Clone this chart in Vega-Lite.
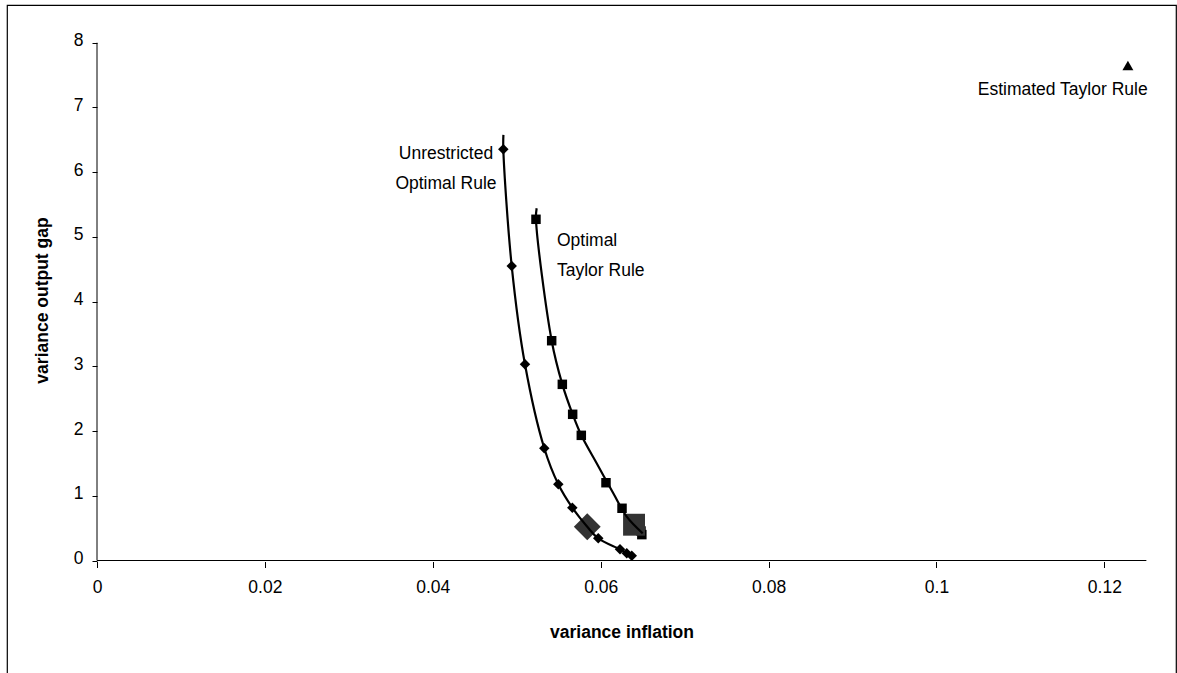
{
  "$schema": "https://vega.github.io/schema/vega-lite/v6.json",
  "width": 1169,
  "height": 669,
  "autosize": {"type": "none"},
  "padding": {"left": 7, "top": 5, "right": 1, "bottom": -1},
  "background": "white",
  "config": {
    "view": {"stroke": "#000", "strokeWidth": 1.2},
    "font": "Liberation Sans",
    "axis": {"grid": false, "domain": false, "tickColor": "#000", "labelColor": "#000", "titleColor": "#000", "labelFont": "Liberation Sans", "titleFont": "Liberation Sans", "labelFontSize": 17.5, "titleFontSize": 17.5, "titleFontWeight": "bold", "labelFlush": false, "labelOverlap": false}
  },
  "datasets": {
    "unrestricted_curve": [
      {"x": 0.04841, "y": 6.576}, {"x": 0.0484, "y": 6.354}, {"x": 0.0494, "y": 4.55}, {"x": 0.05098, "y": 3.032},
      {"x": 0.05328, "y": 1.734}, {"x": 0.05495, "y": 1.177}, {"x": 0.05662, "y": 0.816}, {"x": 0.0584, "y": 0.522},
      {"x": 0.05971, "y": 0.343}, {"x": 0.0623, "y": 0.173}, {"x": 0.0631, "y": 0.111}, {"x": 0.0638, "y": 0.049}
    ],
    "taylor_curve": [
      {"x": 0.05237, "y": 5.442}, {"x": 0.05229, "y": 5.272}, {"x": 0.05416, "y": 3.396}, {"x": 0.05543, "y": 2.722},
      {"x": 0.05666, "y": 2.259}, {"x": 0.05769, "y": 1.934}, {"x": 0.05952, "y": 1.502}, {"x": 0.0615, "y": 1.038},
      {"x": 0.0631, "y": 0.677}, {"x": 0.065, "y": 0.42}
    ],
    "unrestricted_points": [
      {"x": 0.0484, "y": 6.354}, {"x": 0.0494, "y": 4.55}, {"x": 0.05098, "y": 3.032}, {"x": 0.05328, "y": 1.734},
      {"x": 0.05495, "y": 1.177}, {"x": 0.05662, "y": 0.816}, {"x": 0.05971, "y": 0.343}, {"x": 0.0623, "y": 0.173},
      {"x": 0.0631, "y": 0.111}, {"x": 0.0637, "y": 0.074}
    ],
    "taylor_points": [
      {"x": 0.05229, "y": 5.272}, {"x": 0.05416, "y": 3.396}, {"x": 0.05543, "y": 2.722}, {"x": 0.05666, "y": 2.259},
      {"x": 0.05769, "y": 1.934}, {"x": 0.06063, "y": 1.202}, {"x": 0.06254, "y": 0.807}, {"x": 0.0648, "y": 0.456},
      {"x": 0.0649, "y": 0.4}
    ],
    "unrestricted_selected": [{"x": 0.0584, "y": 0.522}],
    "taylor_selected": [{"x": 0.06397, "y": 0.553}],
    "estimated": [{"x": 0.1228, "y": 7.65}]
  },
  "encoding": {
    "x": {
      "field": "x", "type": "quantitative",
      "scale": {"domain": [-0.010721, 0.128529], "nice": false, "zero": false},
      "axis": {"values": [0, 0.02, 0.04, 0.06, 0.08, 0.1, 0.12], "format": "~g", "offset": -112.5, "tickSize": 6, "labelPadding": 11,
        "title": "variance inflation", "titleX": 614.5, "titleY": 71, "titleBaseline": "middle", "titleAlign": "center"}
    },
    "y": {
      "field": "y", "type": "quantitative",
      "scale": {"domain": [-1.7535, 8.583], "nice": false, "zero": false},
      "axis": {"values": [0, 1, 2, 3, 4, 5, 6, 7, 8], "offset": -90, "tickSize": 5, "labelPadding": 9, "labelOffset": -2,
        "title": "variance output gap", "titleX": -55, "titleY": 295, "titleAngle": 270, "titleBaseline": "middle", "titleAlign": "center"}
    }
  },
  "layer": [
    {"data": {"name": "estimated"}, "mark": {"type": "rule", "color": "#000", "strokeWidth": 1},
     "encoding": {"x": {"datum": 0, "type": "quantitative"}, "x2": {"datum": 0.125}, "y": {"datum": 0, "type": "quantitative"}}},
    {"data": {"name": "estimated"}, "mark": {"type": "rule", "color": "#000", "strokeWidth": 1},
     "encoding": {"x": {"datum": 0, "type": "quantitative"}, "y": {"datum": 0, "type": "quantitative"}, "y2": {"datum": 8}}},
    {"data": {"name": "unrestricted_points"}, "mark": {"type": "point", "shape": "diamond", "filled": true, "size": 110, "color": "#000", "opacity": 1}},
    {"data": {"name": "taylor_points"}, "mark": {"type": "point", "shape": "square", "filled": true, "size": 90, "color": "#000", "opacity": 1}},
    {"data": {"name": "unrestricted_selected"}, "mark": {"type": "point", "shape": "diamond", "filled": true, "size": 720, "color": "#333333", "opacity": 1}},
    {"data": {"name": "taylor_selected"}, "mark": {"type": "point", "shape": "square", "filled": true, "size": 480, "color": "#333333", "opacity": 1}},
    {"data": {"name": "unrestricted_curve"}, "mark": {"type": "line", "interpolate": "catmull-rom", "color": "#000", "strokeWidth": 2.2},
     "encoding": {"order": {"field": "y", "sort": "descending"}}},
    {"data": {"name": "taylor_curve"}, "mark": {"type": "line", "interpolate": "catmull-rom", "color": "#000", "strokeWidth": 2.2},
     "encoding": {"order": {"field": "y", "sort": "descending"}}},
    {"data": {"name": "estimated"}, "mark": {"type": "point", "shape": "triangle-up", "filled": true, "size": 120, "color": "#000", "opacity": 1}},
    {"data": {"values": [{"x": 0.11503, "y": 7.193, "label": "Estimated Taylor Rule"}]},
     "mark": {"type": "text", "font": "Liberation Sans", "fontSize": 17.5, "color": "#000", "align": "center", "baseline": "alphabetic"},
     "encoding": {"text": {"field": "label"}}},
    {"data": {"values": [{"x": 0.04157, "y": 6.204, "label": "Unrestricted\nOptimal Rule"}]},
     "mark": {"type": "text", "font": "Liberation Sans", "fontSize": 17.5, "color": "#000", "align": "center", "baseline": "alphabetic", "lineBreak": "\n", "lineHeight": 30},
     "encoding": {"text": {"field": "label"}}},
    {"data": {"values": [{"x": 0.05479, "y": 4.867, "label": "Optimal\nTaylor Rule"}]},
     "mark": {"type": "text", "font": "Liberation Sans", "fontSize": 17.5, "color": "#000", "align": "left", "baseline": "alphabetic", "lineBreak": "\n", "lineHeight": 30},
     "encoding": {"text": {"field": "label"}}}
  ]
}
